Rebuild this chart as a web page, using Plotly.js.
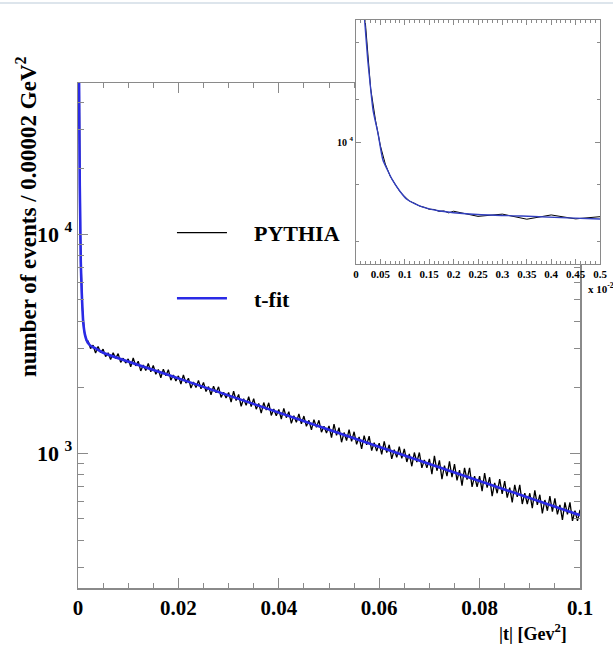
<!DOCTYPE html>
<html>
<head>
<meta charset="utf-8">
<script src="https://cdn.plot.ly/plotly-3.0.1.min.js"></script>
<style>html,body{margin:0;padding:0;background:#fff;}#chart{width:613px;height:648px;}</style>
</head>
<body>
<div id="chart"></div>
<script>
// ---- data ----
// PYTHIA histogram: steep forward spike (explicit |t| values) ...
const pythiaSpikeT = [0.00002,0.0001,0.0002,0.0003,0.0004,0.0005,0.0006,0.0007,0.0008,0.0009,0.0010,0.0011,0.0012,0.0013,0.0014,0.0015,0.0016,0.0017,0.0018,0.0019];
const pythiaSpikeN = [450000,170000,64000,23800,14200,9400,7000,5750,5050,4480,4120,3830,3700,3540,3470,3360,3350,3250,3270,3170];
// ... then the exponential tail, bins from 0.002 every 0.0005 GeV^2
const pythiaTailStart = 0.002;
const pythiaTailStep = 0.0005;
const pythiaTailN = [
 3255,2995,3105,2860,3065,2875,
 2980,2755,2870,2670,2870,2705,2845,2595,2710,2575,
 2690,2475,2715,2500,2625,2370,2525,2380,2565,2350,
 2510,2290,2405,2205,2415,2255,2400,2150,2270,2135,
 2250,2065,2270,2085,2195,1980,2110,1990,2145,1965,
 2100,1910,2010,1845,2020,1885,2005,1795,1895,1785,
 1890,1710,1915,1735,1850,1635,1770,1650,1810,1630,
 1770,1585,1685,1520,1700,1570,1695,1485,1590,1480,
 1580,1430,1600,1450,1545,1365,1480,1380,1510,1360,
 1475,1325,1410,1275,1420,1310,1410,1245,1325,1235,
 1330,1175,1355,1205,1305,1120,1240,1140,1280,1130,
 1250,1095,1185,1045,1200,1090,1195,1025,1115,1020,
 1110,985,1130,1005,1090,940,1035,955,1070,945,
 1045,910,990,870,1005,910,1005,855,930,855,
 940,800,970,830,925,760,875,785,915,775,
 890,750,835,710,855,755,855,700,785,700,
 785,670,810,695,775,635,730,655,760,650,
 745,625,695,595,715,630,715,585,655,585,
 655,560,675,580,645,530,610,545,635,540,
 620,525,580,495,595,525,595,490,545,490,550
];
// t-fit curve
const fitT = [0.00002,0.0001,0.00018,0.00024,0.00029,0.00035,0.00045,0.00055,0.00065,0.00074,0.0009,0.00104,0.0012,0.00137,0.00172,0.0024,0.0034,0.005,0.02,0.05,0.075,0.1];
const fitN = [450000,160000,70000,38000,25700,16700,11550,7500,6300,5450,4500,3950,3680,3480,3270,3100,3010,2870,2192,1278,815,520];

const seriesNames = ["PYTHIA", "t-fit"];
const xTickVals = [0, 0.02, 0.04, 0.06, 0.08, 0.1];
const xTickText = ["0", "0.02", "0.04", "0.06", "0.08", "0.1"];
const yTickVals = [1000, 10000];
const yTickText = ["10 <sup>3</sup>", "10 <sup>4</sup>"];
const insetXTickVals = [0,0.0005,0.001,0.0015,0.002,0.0025,0.003,0.0035,0.004,0.0045,0.005];
const insetXTickText = ["0","0.05","0.1","0.15","0.2","0.25","0.3","0.35","0.4","0.45","0.5"];
const insetYTickVals = [10000];
const insetYTickText = ["10 <sup>4</sup>"];

// ---- build ----
const pythiaT = pythiaSpikeT.concat(pythiaTailN.map((_, i) => +(pythiaTailStart + i * pythiaTailStep).toFixed(4)));
const pythiaN = pythiaSpikeN.concat(pythiaTailN);

const SERIF = "Liberation Serif, Times New Roman, serif";
const AX = "#8a8a8a";
const BLUE = "#2a2ae6";
const PAD = "\u00a0\u00a0\u00a0\u00a0";

const traces = [
  {x: pythiaT, y: pythiaN, xaxis: "x", yaxis: "y", type: "scatter", mode: "lines",
   name: PAD + seriesNames[0], line: {color: "#000", width: 1.3}, legendgroup: "a"},
  {x: fitT, y: fitN, xaxis: "x", yaxis: "y", type: "scatter", mode: "lines",
   name: PAD + seriesNames[1], line: {color: BLUE, width: 2.6, shape: "spline", smoothing: 0.6}, legendgroup: "b"},
  {x: pythiaT, y: pythiaN, xaxis: "x2", yaxis: "y2", type: "scatter", mode: "lines",
   name: seriesNames[0], showlegend: false, line: {color: "#000", width: 1}},
  {x: fitT, y: fitN, xaxis: "x2", yaxis: "y2", type: "scatter", mode: "lines",
   name: seriesNames[1], showlegend: false, line: {color: "#3340c0", width: 1.4, shape: "spline", smoothing: 0.6}}
];

const axisCommon = {showgrid: false, zeroline: false, showline: true, linecolor: AX, linewidth: 1.5,
  ticks: "inside", tickcolor: AX, mirror: "ticks"};

const layout = {
  width: 613, height: 648,
  margin: {l: 78, r: 13, t: 20, b: 60, pad: 0},
  paper_bgcolor: "#fff", plot_bgcolor: "#fff",
  showlegend: true,
  legend: {x: 0.18, y: 0.6623, xanchor: "left", yanchor: "top", bgcolor: "rgba(0,0,0,0)",
    traceorder: "grouped", tracegroupgap: 34, itemwidth: 50,
    font: {family: SERIF, size: 22, weight: "bold", color: "#000"}},
  xaxis: Object.assign({}, axisCommon, {domain: [0, 0.96169], range: [0, 0.1],
    tickmode: "array", tickvals: xTickVals, ticktext: xTickText, ticklen: 10, tickwidth: 1,
    tickfont: {family: SERIF, size: 21, weight: "bold", color: "#000"},
    minor: {dtick: 0.005, tick0: 0, ticklen: 5, tickcolor: AX, ticks: "inside"}}),
  yaxis: Object.assign({}, axisCommon, {domain: [0, 0.88908], type: "log", range: [2.3836, 4.6895],
    tickmode: "array", tickvals: yTickVals, ticktext: yTickText, ticklen: 10, tickwidth: 1,
    tickfont: {family: SERIF, size: 22, weight: "bold", color: "#000"},
    minor: {dtick: "D1", ticklen: 6, tickcolor: AX, ticks: "inside"}}),
  xaxis2: Object.assign({}, axisCommon, {domain: [0.53257, 1], range: [0, 0.005], anchor: "y2",
    linewidth: 1, tickmode: "array", tickvals: insetXTickVals, ticktext: insetXTickText, ticklen: 5,
    tickfont: {family: SERIF, size: 11, weight: "bold", color: "#000"},
    minor: {dtick: 0.0001, tick0: 0, ticklen: 3, tickcolor: AX, ticks: "inside"}}),
  yaxis2: Object.assign({}, axisCommon, {domain: [0.57042, 1], type: "log", range: [3.141, 4.859], anchor: "x2",
    linewidth: 1, tickmode: "array", tickvals: insetYTickVals, ticktext: insetYTickText, ticklen: 5,
    tickfont: {family: SERIF, size: 10, weight: "bold", color: "#000"},
    minor: {dtick: "D2", ticklen: 3, tickcolor: AX, ticks: "inside"}}),
  annotations: [
    {xref: "paper", yref: "paper", x: -0.0996, y: 0.653, xanchor: "center", yanchor: "middle",
     textangle: -90, showarrow: false, text: "number of events / 0.00002 GeV<sup>2</sup>",
     font: {family: SERIF, size: 23, weight: "bold", color: "#000"}},
    {xref: "paper", yref: "paper", x: 0.8716, y: -0.0792, xanchor: "center", yanchor: "middle",
     showarrow: false, text: "|t| [Gev<sup>2</sup>]",
     font: {family: SERIF, size: 18, weight: "bold", color: "#000"}},
    {xref: "paper", yref: "paper", x: 0.9732, y: 0.528, xanchor: "left", yanchor: "middle",
     showarrow: false, text: "x 10<sup>-2</sup>",
     font: {family: SERIF, size: 11, weight: "bold", color: "#000"}}
  ],
  shapes: [
    {type: "line", xref: "paper", yref: "paper", x0: -0.16, x1: 1.03, y0: 1.0299, y1: 1.0299,
     line: {color: "#dde5ec", width: 2}}
  ]
};

Plotly.newPlot("chart", traces, layout, {displayModeBar: false, staticPlot: true});
</script>
</body>
</html>
